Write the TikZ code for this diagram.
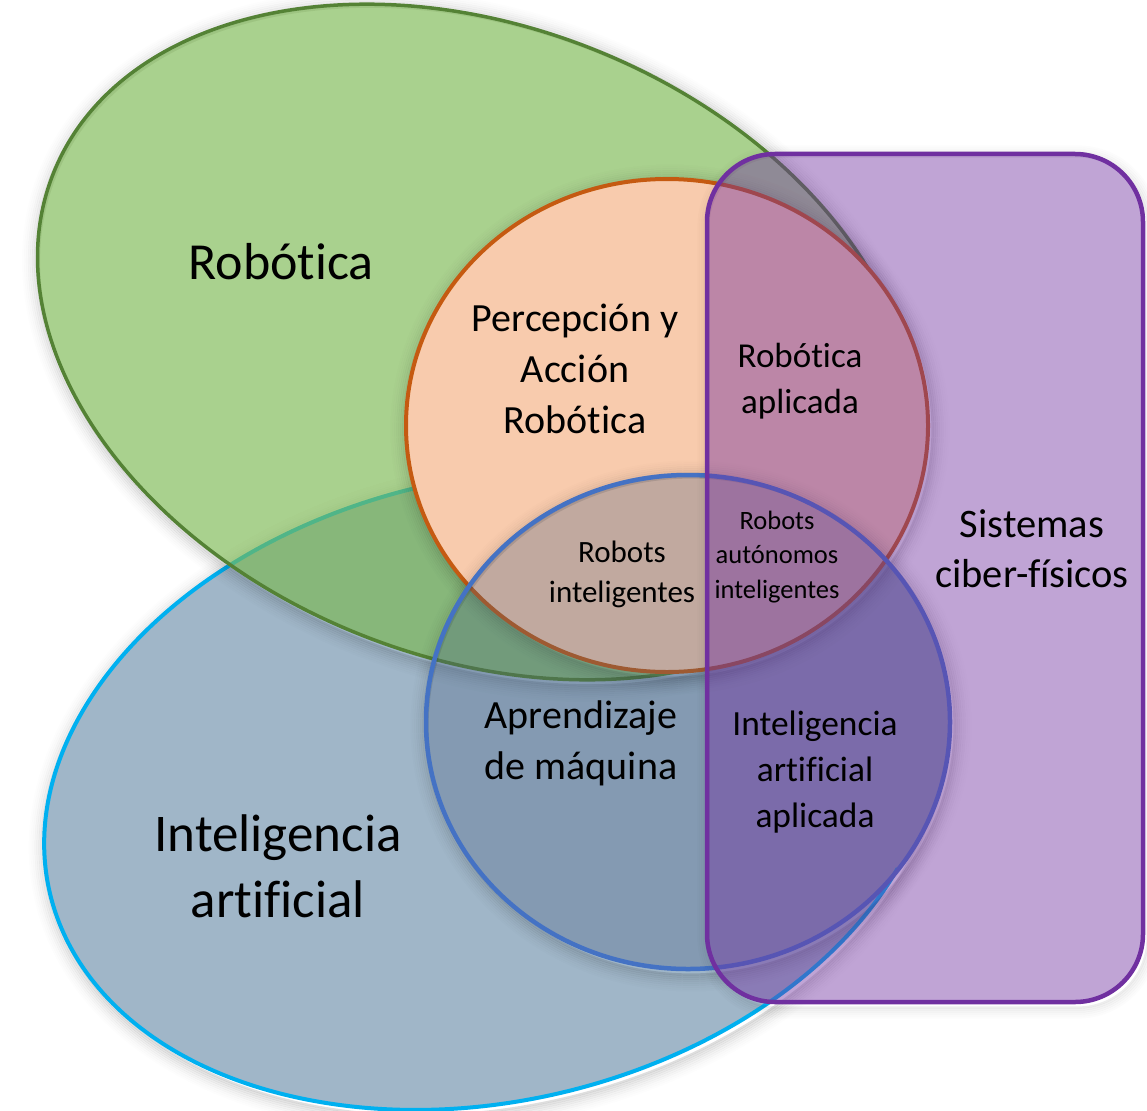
\documentclass[tikz,border=0pt]{standalone}
\usepackage{fontspec}
\setmainfont{Carlito}[Ligatures=NoCommon]
\definecolor{grfill}{HTML}{7BB851}
\definecolor{grline}{HTML}{548235}
\definecolor{aifill}{HTML}{A0B6C8}
\definecolor{ailine}{HTML}{00B0F0}
\definecolor{orfill}{HTML}{F8CBAD}
\definecolor{orline}{HTML}{C55A11}
\definecolor{mlfill}{HTML}{445C80}
\definecolor{mlline}{HTML}{4472C4}
\definecolor{cpfill}{HTML}{7030A0}
\definecolor{cpline}{HTML}{7030A0}
\newcommand{\myshadowell}[5]{%
  \begin{scope}[shift={(#1+3,#2+4)}, rotate=#3]
    \foreach \e/\o in {1.5/0.13,3.5/0.11,5.5/0.09,7.5/0.07,9.5/0.052,11.5/0.038,13.5/0.025,15.5/0.015,17.5/0.008}
      \draw[black, draw opacity=\o, line width=2.2pt] (0,0) ellipse [x radius=#4+\e, y radius=#5+\e];
  \end{scope}}
\begin{document}
\begin{tikzpicture}[x=1pt,y=-1pt,line join=round,
  lab/.style={inner sep=0pt, align=center, text=black}]
\useasboundingbox (0,0) rectangle (1147,1110);

% Inteligencia artificial ellipse
\myshadowell{490}{790}{13.2}{452}{311}
\fill[aifill] (688,722) ellipse [x radius=262, y radius=247];
\begin{scope}[shift={(490,790)}, rotate=13.2]
  \fill[aifill] (0,0) ellipse [x radius=452, y radius=311];
  \draw[ailine, line width=4pt] (33:452 and 311) arc [start angle=33, end angle=330, x radius=452, y radius=311];
\end{scope}

% Robotica ellipse
\myshadowell{477}{342}{-21.7}{456}{315}
\begin{scope}[shift={(477,342)}, rotate=-21.7]
  \fill[grfill, fill opacity=0.65] (0,0) ellipse [x radius=456, y radius=315];
  \draw[grline, line width=3.5pt] (0,0) ellipse [x radius=456, y radius=315];
\end{scope}

% Percepcion circle
\myshadowell{667}{425.5}{0}{261}{246.5}
\draw[orline, line width=4pt, fill=orfill] (667,425.5) ellipse [x radius=261, y radius=246.5];

% Aprendizaje circle
\myshadowell{688}{722}{0}{262}{247}
\fill[mlfill, fill opacity=0.3] (688,722) ellipse [x radius=262, y radius=247];
\draw[mlline, line width=4.5pt] (688,722) ellipse [x radius=262, y radius=247];

% Sistemas ciber-fisicos rectangle
\foreach \e/\o in {1.5/0.07,3.5/0.055,5.5/0.042,7.5/0.03,9.5/0.02,11.5/0.012}
  \draw[black, draw opacity=\o, line width=2.2pt, rounded corners=68+\e]
    (707-\e+3,154-\e+4) rectangle (1143+\e+3,1002+\e+4);
\fill[cpfill, fill opacity=0.44, rounded corners=68] (707,154) rectangle (1143,1002);
\draw[cpline, line width=4.5pt, rounded corners=68] (707,154) rectangle (1143,1002);

% Labels
\node[lab, font=\fontsize{52}{66}\selectfont] (rob) at (281,262) {Robótica};
\node[lab, font=\fontsize{53}{66}\selectfont] (ia) at (278,866) {Inteligencia\\artificial};
\node[lab, font=\fontsize{40}{51}\selectfont] (pa) at (575,369) {Percepción y\\Acción\\Robótica};
\node[lab, font=\fontsize{35}{46}\selectfont] (ra) at (800,381) {Robótica\\aplicada};
\node[lab, font=\fontsize{31}{40}\selectfont] (ri) at (622,574) {Robots\\inteligentes};
\node[lab, font=\fontsize{26.5}{34.5}\selectfont] (rai) at (777,557) {Robots\\autónomos\\inteligentes};
\node[lab, font=\fontsize{40.5}{50}\selectfont] (cps) at (1032,549) {Sistemas\\ciber-físicos};
\node[lab, font=\fontsize{40}{51}\selectfont] (am) at (581,743) {Aprendizaje\\de máquina};
\node[lab, font=\fontsize{35.4}{46}\selectfont] (iaa) at (815,772) {Inteligencia\\artificial\\aplicada};
\end{tikzpicture}
\end{document}
